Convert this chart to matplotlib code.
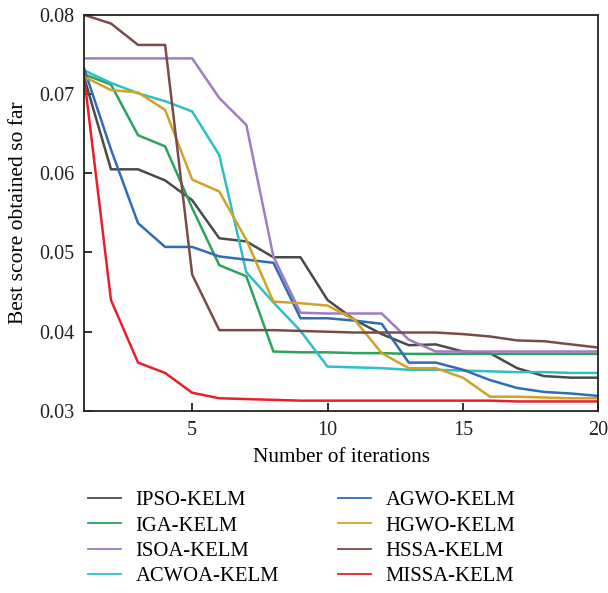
import matplotlib
matplotlib.use("Agg")
import matplotlib.pyplot as plt

plt.rcParams["font.family"] = ["Liberation Serif", "DejaVu Serif"]

iterations = list(range(1, 21))

ipso = [0.0722, 0.0605, 0.0605, 0.0591, 0.0566, 0.0518, 0.0514, 0.0494, 0.0494, 0.0440,
        0.0415, 0.0397, 0.0383, 0.0384, 0.0375, 0.0373, 0.0354, 0.0344, 0.0342, 0.0342]
iga = [0.0725, 0.0712, 0.0648, 0.0634, 0.0556, 0.0484, 0.0470, 0.0375, 0.0374, 0.0374,
       0.0373, 0.0373, 0.0372, 0.0372, 0.0372, 0.0372, 0.0372, 0.0372, 0.0372, 0.0372]
isoa = [0.0745, 0.0745, 0.0745, 0.0745, 0.0745, 0.0695, 0.0661, 0.0495, 0.0424, 0.0423,
        0.0423, 0.0423, 0.0390, 0.0375, 0.0375, 0.0375, 0.0375, 0.0375, 0.0375, 0.0375]
acwoa = [0.0730, 0.0714, 0.0701, 0.0691, 0.0678, 0.0623, 0.0475, 0.0437, 0.0401, 0.0356,
         0.0355, 0.0354, 0.0352, 0.0352, 0.0351, 0.0350, 0.0349, 0.0349, 0.0348, 0.0348]
agwo = [0.0733, 0.0630, 0.0537, 0.0507, 0.0507, 0.0495, 0.0491, 0.0487, 0.0417, 0.0417,
        0.0414, 0.0410, 0.0361, 0.0361, 0.0352, 0.0339, 0.0329, 0.0324, 0.0322, 0.0319]
hgwo = [0.0722, 0.0705, 0.0702, 0.0680, 0.0592, 0.0577, 0.0516, 0.0438, 0.0436, 0.0433,
        0.0415, 0.0373, 0.0354, 0.0354, 0.0342, 0.0318, 0.0318, 0.0317, 0.0316, 0.0316]
hssa = [0.0800, 0.0789, 0.0762, 0.0762, 0.0472, 0.0402, 0.0402, 0.0402, 0.0401, 0.0400,
        0.0399, 0.0399, 0.0399, 0.0399, 0.0397, 0.0394, 0.0389, 0.0388, 0.0384, 0.0380]
missa = [0.0724, 0.0440, 0.0361, 0.0348, 0.0323, 0.0316, 0.0315, 0.0314, 0.0313, 0.0313,
         0.0313, 0.0313, 0.0313, 0.0313, 0.0313, 0.0313, 0.0312, 0.0312, 0.0312, 0.0312]

series = [
    ("IPSO-KELM", ipso, "#4a4a4a"),
    ("IGA-KELM", iga, "#2ba35c"),
    ("ISOA-KELM", isoa, "#a07cc0"),
    ("ACWOA-KELM", acwoa, "#2cc0c6"),
    ("AGWO-KELM", agwo, "#2f6db6"),
    ("HGWO-KELM", hgwo, "#d3a126"),
    ("HSSA-KELM", hssa, "#7a4b48"),
    ("MISSA-KELM", missa, "#e8202b"),
]

fig = plt.figure(figsize=(6.08, 5.93), dpi=100)
ax = fig.add_axes([0.138, 0.307, 0.846, 0.668])

for name, vals, color in series:
    ax.plot(iterations, vals, color=color, linewidth=1.8, label=name)

ax.set_xlim(1, 20)
ax.set_ylim(0.03, 0.08)
ax.set_xticks([5, 10, 15, 20])
ax.set_yticks([0.03, 0.04, 0.05, 0.06, 0.07, 0.08])
ax.set_yticklabels(["0.03", "0.04", "0.05", "0.06", "0.07", "0.08"])
ax.tick_params(direction="in", length=6, width=1.3, labelsize=14.5, pad=7, colors="#222222")
for sp in ax.spines.values():
    sp.set_linewidth(1.3)
    sp.set_color("#222222")

ax.set_xlabel("Number of iterations", fontsize=15.3, labelpad=6)
ax.set_ylabel("Best score obtained so far", fontsize=15.5, labelpad=8)

# left column gets the first four entries, right column the last four
leg = fig.legend(loc="upper left", bbox_to_anchor=(0.1137, 0.2035), ncol=2, frameon=False,
                 fontsize=14.9, handlelength=1.6, columnspacing=2.87, labelspacing=0.28,
                 handletextpad=0.7)
for line in leg.get_lines():
    line.set_linewidth(1.3)

fig.savefig("out.png", dpi=100)
